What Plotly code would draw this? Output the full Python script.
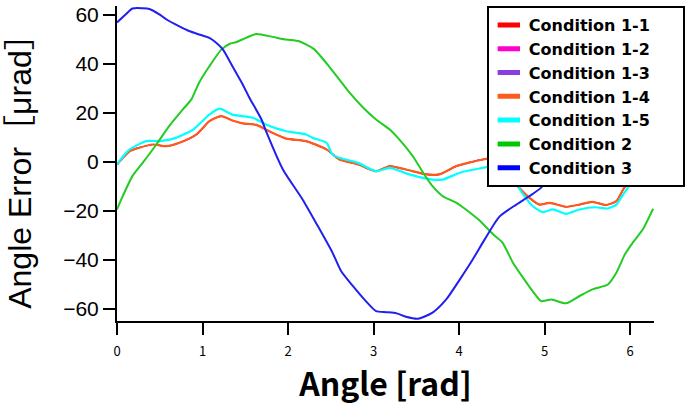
import plotly.graph_objects as go

# ---------------- data ----------------
x_c14 = [0.00, 0.08, 0.15, 0.26, 0.42, 0.58, 0.73, 0.93, 1.08, 1.22, 1.35, 1.47, 1.63, 1.78, 1.98,
         2.21, 2.45, 2.60, 2.82, 3.03, 3.19, 3.38, 3.62, 3.77, 3.97, 4.28, 4.45, 4.58, 4.67, 4.82,
         4.94, 5.06, 5.25, 5.41, 5.56, 5.72, 5.84, 5.92, 5.96, 6.10, 6.28]
y_c14 = [-1.2, 2.0, 4.3, 5.7, 7.0, 6.3, 7.7, 11.1, 16.5, 18.6, 16.8, 15.6, 15.0, 12.4, 9.4,
         8.4, 5.0, 0.9, -1.1, -3.9, -1.8, -3.2, -5.2, -5.2, -1.8, 0.9, 1.5, -3.0, -9.3, -14.7,
         -17.5, -16.8, -18.4, -17.5, -16.4, -17.7, -16.1, -11.3, -9.3, -4.0, -1.2]

# Conditions 1-1 .. 1-3 lie underneath Condition 1-4 in the reference
x_c11, y_c11 = list(x_c14), list(y_c14)
x_c12, y_c12 = list(x_c14), list(y_c14)
x_c13, y_c13 = list(x_c14), list(y_c14)

x_c15 = [0.00, 0.08, 0.15, 0.34, 0.50, 0.69, 0.89, 1.08, 1.20, 1.35, 1.59, 1.74, 1.98, 2.10, 2.21,
         2.29, 2.45, 2.52, 2.60, 2.82, 3.03, 3.19, 3.42, 3.69, 3.81, 4.01, 4.28, 4.45, 4.60, 4.71,
         4.86, 4.98, 5.10, 5.25, 5.41, 5.60, 5.74, 5.84, 5.92, 5.99, 6.12, 6.28]
y_c15 = [-1.1, 2.5, 5.0, 8.4, 8.4, 9.7, 13.1, 19.2, 21.6, 19.2, 17.9, 15.2, 12.4, 11.8, 11.1,
         9.7, 7.7, 2.9, 1.6, -0.5, -3.9, -2.5, -5.2, -7.3, -7.3, -4.5, -2.5, -1.5, -5.0, -11.3,
         -18.1, -20.6, -19.5, -21.3, -19.5, -18.6, -19.1, -17.5, -13.4, -10.0, -5.0, -1.1]

x_c2 = [0.00, 0.05, 0.18, 0.30, 0.46, 0.61, 0.77, 0.87, 0.96, 1.08, 1.22, 1.32, 1.39, 1.51, 1.63,
        1.82, 1.98, 2.13, 2.30, 2.50, 2.70, 2.88, 3.03, 3.19, 3.30, 3.46, 3.58, 3.69, 3.81, 3.97,
        4.08, 4.24, 4.40, 4.51, 4.63, 4.75, 4.86, 4.96, 5.08, 5.25, 5.41, 5.56, 5.74, 5.84, 5.94,
        6.03, 6.15, 6.27]
y_c2 = [-19.5, -15.4, -5.9, -0.5, 7.0, 14.5, 21.3, 25.4, 32.2, 38.9, 45.7, 48.1, 48.7, 50.5, 52.1,
        50.9, 49.8, 49.1, 46.0, 38.0, 29.0, 22.0, 17.2, 13.1, 9.1, 2.2, -4.5, -10.0, -14.1, -16.8,
        -19.5, -24.0, -29.7, -33.1, -41.2, -47.4, -52.8, -56.9, -56.2, -57.8, -54.8, -52.1, -50.1, -45.3, -37.8,
        -33.1, -27.6, -19.2]

x_c3 = [0.00, 0.10, 0.18, 0.30, 0.38, 0.50, 0.58, 0.73, 0.85, 0.96, 1.08, 1.16, 1.24, 1.35, 1.47,
        1.55, 1.69, 1.75, 1.94, 2.17, 2.37, 2.52, 2.62, 2.76, 2.91, 3.03, 3.15, 3.27, 3.38, 3.52,
        3.69, 3.85, 4.01, 4.16, 4.30, 4.47, 4.67, 4.82, 4.96, 5.20, 5.50, 5.80, 6.05, 6.28]
y_c3 = [56.8, 60.0, 62.5, 62.6, 62.3, 60.0, 58.0, 55.2, 53.2, 51.9, 50.5, 48.5, 45.7, 38.9, 31.5,
        26.0, 17.2, 11.8, -3.2, -15.4, -27.6, -37.1, -44.6, -50.8, -56.9, -61.0, -61.4, -61.9, -63.3, -64.1,
        -61.6, -56.2, -48.0, -39.9, -31.7, -22.5, -17.5, -14.1, -10.6, 2.0, 20.0, 38.0, 50.0, 56.8]

series_names = ["Condition 1-1", "Condition 1-2", "Condition 1-3", "Condition 1-4",
                "Condition 1-5", "Condition 2", "Condition 3"]
series_x = [x_c11, x_c12, x_c13, x_c14, x_c15, x_c2, x_c3]
series_y = [y_c11, y_c12, y_c13, y_c14, y_c15, y_c2, y_c3]
series_colors = ["#FF0000", "#FF00CC", "#8A3EE0", "#FF5A1E", "#00FFFF", "#22CC22", "#2020EE"]
series_widths = [1.2, 1.2, 1.2, 2.2, 2.2, 2, 2]
legend_colors = ["#FF0000", "#FF00CC", "#8A3EE0", "#FF5A1E", "#00FFFF", "#00C800", "#0000FF"]

x_ticks = [0, 1, 2, 3, 4, 5, 6]
y_ticks = [-60, -40, -20, 0, 20, 40, 60]

# ---------------- figure ----------------
fig = go.Figure()
for name, xs, ys, col, w in zip(series_names, series_x, series_y, series_colors, series_widths):
    fig.add_trace(go.Scatter(x=xs, y=ys, mode="lines", name=name,
                             line=dict(color=col, width=w, shape="spline", smoothing=0.6),
                             showlegend=False, hoverinfo="skip"))
# legend swatches
for name, col in zip(series_names, legend_colors):
    fig.add_trace(go.Scatter(x=[None], y=[None], mode="markers", name=name + "\u00a0" * 5,
                             marker=dict(symbol="line-ew", size=16,
                                         line=dict(color=col, width=8)),
                             showlegend=True))

fig.update_layout(
    width=690, height=405,
    margin=dict(l=117, r=36, t=6, b=84, autoexpand=False),
    paper_bgcolor="white", plot_bgcolor="white",
    showlegend=True,
    legend=dict(x=0.6887, y=1.0, xanchor="left", yanchor="top",
                bgcolor="white", bordercolor="black", borderwidth=2,
                font=dict(family="DejaVu Sans", size=16, color="black", weight=700),
                itemwidth=30, tracegroupgap=0),
    xaxis=dict(range=[0, 6.28], tickvals=x_ticks, ticktext=[str(v) for v in x_ticks],
               automargin=False,
               showgrid=False, zeroline=False, showline=True, linecolor="black", linewidth=1.5,
               ticks="outside", ticklen=12, tickwidth=1.5, tickcolor="black",
               tickfont=dict(family="Noto Sans CJK JP", size=13, color="black"),
               ticklabelstandoff=6,
               title=dict(text="Angle [rad]", standoff=14,
                          font=dict(family="Noto Sans CJK JP", size=32, color="black", weight=700))),
    yaxis=dict(range=[-65, 63.5], tickvals=y_ticks, ticktext=[("\u2212" + str(-v)) if v < 0 else str(v) for v in y_ticks],
               automargin=False,
               showgrid=False, zeroline=False, showline=True, linecolor="black", linewidth=2,
               ticks="outside", ticklen=12, tickwidth=2, tickcolor="black",
               tickfont=dict(family="Liberation Sans, Arial", size=21, color="black"),
               title=dict(text="Angle Error\uff3b\u03bcrad\uff3d", standoff=22,
                          font=dict(family="Liberation Sans, Noto Sans CJK JP", size=32, color="black"))),
)

fig.write_html("out.html", config={"displayModeBar": False},
               post_script="document.body.style.margin='0px';")
